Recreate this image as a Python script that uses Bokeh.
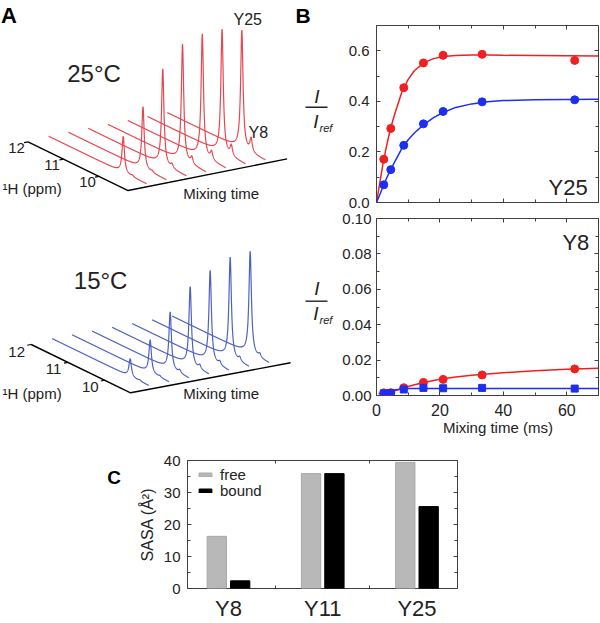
import numpy as np
from bokeh.plotting import figure
from bokeh.models import (Range1d, LinearAxis, FixedTicker, SingleIntervalTicker,
                          NumeralTickFormatter, CustomJSTickFormatter, Label, Legend,
                          LegendItem, ColumnDataSource)
from bokeh.layouts import row, column
from bokeh.embed import file_html
from bokeh.resources import INLINE

FONT = "Liberation Sans"
TXT = "#222222"
FRAME = "#404040"

# ---------------- data ----------------
mix_ms = [2.3, 4.5, 8.6, 14.8, 21.0, 33.3, 62.5]
# Y25 (I/Iref): red = 25 C, blue = 15 C
y25_25C = [0.171, 0.293, 0.454, 0.552, 0.582, 0.586, 0.562]
y25_15C = [0.070, 0.130, 0.226, 0.311, 0.360, 0.398, 0.406]
# Y8 (I/Iref)
y8_25C = [0.0015, 0.0016, 0.0044, 0.0074, 0.0091, 0.0116, 0.0150]
y8_15C = [0.0012, 0.0014, 0.0034, 0.0043, 0.0041, 0.0043, 0.0039]

# fitted curves
fit_t = [0, 1, 2, 3, 4, 5, 6, 8, 10, 12, 15, 18, 21, 25, 30, 35, 40, 50, 60, 70]
fit_y25_25C = [0.0, 0.075, 0.150, 0.214, 0.270, 0.318, 0.360, 0.437, 0.487, 0.522,
               0.553, 0.569, 0.577, 0.581, 0.583, 0.583, 0.582, 0.581, 0.580, 0.579]
fit_y25_15C = [0.0, 0.030, 0.061, 0.091, 0.118, 0.143, 0.167, 0.214, 0.248, 0.276,
               0.309, 0.336, 0.356, 0.376, 0.390, 0.398, 0.403, 0.406, 0.407, 0.408]
fit_t8 = [0.7, 1.5, 3, 5, 8, 10, 12, 15, 18, 21, 25, 30, 35, 40, 50, 60, 70]
fit_y8_25C = [0.0010, 0.0011, 0.0014, 0.0022, 0.0040, 0.0051, 0.0061, 0.0074, 0.0085,
              0.0094, 0.0104, 0.0114, 0.0122, 0.0129, 0.0140, 0.0148, 0.0154]
fit_y8_15C = [0.0011, 0.0013, 0.0020, 0.0030, 0.0037, 0.0039, 0.0040, 0.0040, 0.0040,
              0.0040, 0.0040, 0.0040, 0.0040, 0.0040, 0.0040, 0.0040, 0.0040]

# 1D spectra (panel A): peak positions (ppm) and axis ticks
ppm_ticks = [12, 11, 10]
ppm_y25 = 9.96
ppm_y8 = 9.70
line_gamma = 0.04

# SASA (panel C)
residues = ["Y8", "Y11", "Y25"]
sasa_free = [16.3, 35.9, 39.4]
sasa_bound = [2.4, 35.9, 25.6]

RED_SPEC = "#e64852"
BLUE_SPEC = "#4f62c0"
RED = "#f02020"
BLUE = "#1e2ef0"


def lorentz(ppm, center, gamma):
    return gamma ** 2 / ((ppm - center) ** 2 + gamma ** 2)


def make_proj(x12, y12, px_per_ppm, ppm_slope, t_slope):
    def proj(ppm, s, h):
        u = 12.0 - np.asarray(ppm, dtype=float)
        x = x12 + u * px_per_ppm + s
        y = y12 + u * px_per_ppm * ppm_slope - t_slope * np.asarray(s, dtype=float) - h
        return x, y
    return proj


def txt(p, x, y, text, size, align="left", style="normal", color=TXT):
    # y is the vertical centre of the text
    p.add_layout(Label(x=x, y=y, text=text, text_font=FONT, text_font_size=size,
                       text_font_style=style, text_color=color, text_align=align,
                       text_baseline="middle"))


# ---------------- Panel A (page-pixel coordinates) ----------------
HTOP = 440
pA = figure(width=334, height=HTOP, x_range=Range1d(0, 334), y_range=Range1d(HTOP, 0),
            output_backend="svg", toolbar_location=None,
            x_axis_location=None, y_axis_location=None,
            min_border_left=0, min_border_right=0, min_border_top=0, min_border_bottom=0)
pA.outline_line_color = None
pA.grid.visible = False


def draw_stack(p, proj, ppm_hi, ppm_lo, ppm_corner, s0, ds, s_len, a25, a8, f25, f8,
               color, lab_dx, lab_dy, label_y, mix_y, title, title_x, title_y):
    ppm = np.linspace(ppm_hi, ppm_lo, 800)
    xs, ys = [], []
    for k in range(len(a25)):
        h = f25 * a25[k] * lorentz(ppm, ppm_y25, line_gamma) + \
            f8 * a8[k] * lorentz(ppm, ppm_y8, line_gamma)
        x, y = proj(ppm, s0 + k * ds, h)
        xs.append(list(x))
        ys.append(list(y))
    xa, ya = proj(np.array([12.0, ppm_corner]), 0.0, 0.0)
    xb, yb = proj(np.array([ppm_corner]), s_len, 0.0)
    p.line(list(xa) + list(xb), list(ya) + list(yb), line_color="black", line_width=1.4)
    for tp in ppm_ticks:
        tx, ty = proj(np.array([tp, tp]), np.array([0.0, -4.0]), 0.0)
        p.line(list(tx), list(ty), line_color="black", line_width=1.2)
        txt(p, float(tx[0]) + lab_dx, float(ty[0]) + lab_dy, str(tp), "15px", align="center")
    p.multi_line(xs, ys, line_color=color, line_width=1.2)
    txt(p, 2, label_y, "\u00b9H (ppm)", "15px")
    txt(p, 182.7, mix_y, "Mixing time", "15px")
    txt(p, title_x, title_y, title, "24px")


proj_red = make_proj(27.5, 141.3, 35.5, 0.487, 0.199)
draw_stack(pA, proj_red, 12.06, 9.30, 9.18, 22.8, 19.77, 159.0, y25_25C, y8_25C, 211.0, 900.0,
           RED_SPEC, -11.5, 6.0, 188.0, 192.5, "25\u00b0C", 66.7, 72.5)
proj_blue = make_proj(30.7, 344.0, 36.8, 0.486, 0.1875)
draw_stack(pA, proj_blue, 12.08, 9.45, 9.30, 23.9, 20.0, 160.0, y25_15C, y8_15C, 252.7, 900.0,
           BLUE_SPEC, -14.5, 7.0, 392.5, 393.0, "15\u00b0C", 73.3, 280.0)
txt(pA, 0.5, 15, "A", "22px", style="bold", color="black")
txt(pA, 233, 19, "Y25", "16px")
txt(pA, 248, 131.7, "Y8", "16px")
# panel B letter and I/Iref labels (they sit left of panel B's axes)
txt(pA, 295, 15, "B", "21px", style="bold", color="black")


def frac(p, xc, y_top, y_line, y_bot, y_ref):
    txt(p, xc, y_top, "I", "19px", align="center", style="italic")
    p.line([305, 327], [y_line, y_line], line_color=TXT, line_width=1.4)
    txt(p, xc - 1, y_bot, "I", "19px", align="center", style="italic")
    txt(p, 319, y_ref, "ref", "11px", style="italic")


frac(pA, 316.5, 95.5, 106.7, 120.8, 127.0)
frac(pA, 316.5, 288.0, 300.7, 313.3, 319.5)


# ---------------- helpers ----------------
def cfg_axis(ax, ticker, labels=True, fmt=None, size="15px", standoff=5):
    ax.ticker = ticker
    ax.axis_line_color = None
    ax.major_tick_in = 4
    ax.major_tick_out = 0
    ax.minor_tick_in = 3
    ax.minor_tick_out = 0
    ax.major_tick_line_color = FRAME
    ax.minor_tick_line_color = FRAME
    if labels:
        if fmt is not None:
            ax.formatter = fmt
        ax.major_label_text_font = FONT
        ax.major_label_text_font_size = size
        ax.major_label_text_color = TXT
        ax.major_label_standoff = standoff
    else:
        ax.formatter = CustomJSTickFormatter(code="return ''")
        ax.major_label_text_font_size = "1px"
        ax.major_label_standoff = 0


def panel_b(height, y_end, border_top, border_bottom):
    p = figure(width=266, height=height, x_range=Range1d(0, 70), y_range=Range1d(0, y_end),
               output_backend="svg", toolbar_location=None,
               min_border_left=42, min_border_right=2,
               min_border_top=border_top, min_border_bottom=border_bottom)
    p.outline_line_color = FRAME
    p.outline_line_width = 1
    p.grid.visible = False
    return p


# ---------------- Panel B (top, Y25) ----------------
pB1 = panel_b(210, 0.7, 25, 8)
cfg_axis(pB1.below[0], SingleIntervalTicker(interval=20, num_minor_ticks=2), labels=False)
cfg_axis(pB1.left[0], SingleIntervalTicker(interval=0.2, num_minor_ticks=2),
         fmt=NumeralTickFormatter(format="0.0"), size="15px", standoff=7)
ax = LinearAxis()
cfg_axis(ax, SingleIntervalTicker(interval=0.2, num_minor_ticks=2), labels=False)
pB1.add_layout(ax, "right")
ax = LinearAxis()
cfg_axis(ax, SingleIntervalTicker(interval=20, num_minor_ticks=2), labels=False)
pB1.add_layout(ax, "above")

pB1.line(fit_t, fit_y25_25C, line_color=RED, line_width=1.5)
pB1.line(fit_t, fit_y25_15C, line_color=BLUE, line_width=1.5)
pB1.scatter(mix_ms, y25_25C, marker="circle", size=8, fill_color=RED, line_color=RED)
pB1.scatter(mix_ms, y25_15C, marker="circle", size=8, fill_color=BLUE, line_color=BLUE)
txt(pB1, 66.6, 0.0605, "Y25", "22px", align="right")

# ---------------- Panel B (bottom, Y8) ----------------
pB2 = panel_b(HTOP - 210, 0.1, 8, HTOP - 395)
xb = pB2.below[0]
cfg_axis(xb, SingleIntervalTicker(interval=20, num_minor_ticks=2), size="16px", standoff=8)
cfg_axis(pB2.left[0], SingleIntervalTicker(interval=0.02, num_minor_ticks=2),
         fmt=NumeralTickFormatter(format="0.00"), size="15px", standoff=5)
xb.axis_label = "\u00a0\u00a0\u00a0\u00a0\u00a0Mixing time (ms)"
xb.axis_label_text_font = FONT
xb.axis_label_text_font_size = "15px"
xb.axis_label_text_font_style = "normal"
xb.axis_label_text_color = TXT
xb.axis_label_standoff = 0
ax = LinearAxis()
cfg_axis(ax, SingleIntervalTicker(interval=0.02, num_minor_ticks=2), labels=False)
pB2.add_layout(ax, "right")
ax = LinearAxis()
cfg_axis(ax, SingleIntervalTicker(interval=20, num_minor_ticks=2), labels=False)
pB2.add_layout(ax, "above")

pB2.line(fit_t8, fit_y8_25C, line_color=RED, line_width=1.5)
pB2.line(fit_t8, fit_y8_15C, line_color=BLUE, line_width=1.5)
pB2.scatter(mix_ms, y8_25C, marker="circle", size=8, fill_color=RED, line_color=RED)
pB2.scatter(mix_ms, y8_15C, marker="square", size=7, fill_color=BLUE, line_color=BLUE)
txt(pB2, 67.1, 0.0862, "Y8", "22px", align="right")

# ---------------- Panel C ----------------
HC = 623 - HTOP
pCl = figure(width=130, height=HC, x_range=Range1d(0, 130), y_range=Range1d(623, HTOP),
             output_backend="svg", toolbar_location=None,
             x_axis_location=None, y_axis_location=None,
             min_border_left=0, min_border_right=0, min_border_top=0, min_border_bottom=0)
pCl.outline_line_color = None
pCl.grid.visible = False
txt(pCl, 106.7, 463.7, "C", "19px", style="bold", color="black")

pC = figure(width=350, height=HC, x_range=Range1d(0.565, 3.43), y_range=Range1d(0, 40),
            output_backend="svg", toolbar_location=None,
            min_border_left=57, min_border_right=23, min_border_top=460 - HTOP,
            min_border_bottom=31)
pC.outline_line_color = FRAME
pC.outline_line_width = 1
pC.grid.visible = False
xpos = np.arange(1, len(residues) + 1)
srcC = ColumnDataSource(dict(x_free=xpos - 0.124, x_bound=xpos + 0.124,
                             free=sasa_free, bound=sasa_bound))
r_free = pC.vbar(x="x_free", top="free", width=0.205, source=srcC,
                 fill_color="#b8b8b8", line_color="#a8a8a8")
r_bound = pC.vbar(x="x_bound", top="bound", width=0.205, source=srcC,
                  fill_color="black", line_color="black")

xc = pC.below[0]
cfg_axis(xc, FixedTicker(ticks=[float(v) for v in xpos], minor_ticks=[1.5, 2.5]),
         size="22px", standoff=7)
xc.major_tick_in = 0
xc.major_label_overrides = {int(v): r for v, r in zip(xpos, residues)}
yc = pC.left[0]
cfg_axis(yc, SingleIntervalTicker(interval=10, num_minor_ticks=2), size="15px", standoff=7)
yc.axis_label = "SASA (\u00c5\u00b2)"
yc.axis_label_text_font = FONT
yc.axis_label_text_font_size = "16px"
yc.axis_label_text_font_style = "normal"
yc.axis_label_text_color = TXT
yc.axis_label_standoff = 5
ax = LinearAxis()
cfg_axis(ax, SingleIntervalTicker(interval=10, num_minor_ticks=2), labels=False)
pC.add_layout(ax, "right")
ax = LinearAxis()
cfg_axis(ax, FixedTicker(ticks=[float(v) for v in xpos], minor_ticks=[1.5, 2.5]), labels=False)
ax.major_tick_in = 0
pC.add_layout(ax, "above")


def legend_row(label, renderer, y_loc):
    lg = Legend(items=[LegendItem(label=label, renderers=[renderer])],
                location=(10, y_loc), orientation="vertical", padding=2, margin=0,
                glyph_width=16, glyph_height=5, label_height=14, label_standoff=7,
                label_text_font=FONT, label_text_font_size="15px", label_text_color=TXT,
                border_line_color=None, background_fill_alpha=0)
    pC.add_layout(lg)


legend_row("free", r_free, 105)
legend_row("bound", r_bound, 89.5)

layout = column(row(pA, column(pB1, pB2)), row(pCl, pC))
open("out.html", "w").write(file_html(layout, INLINE))
